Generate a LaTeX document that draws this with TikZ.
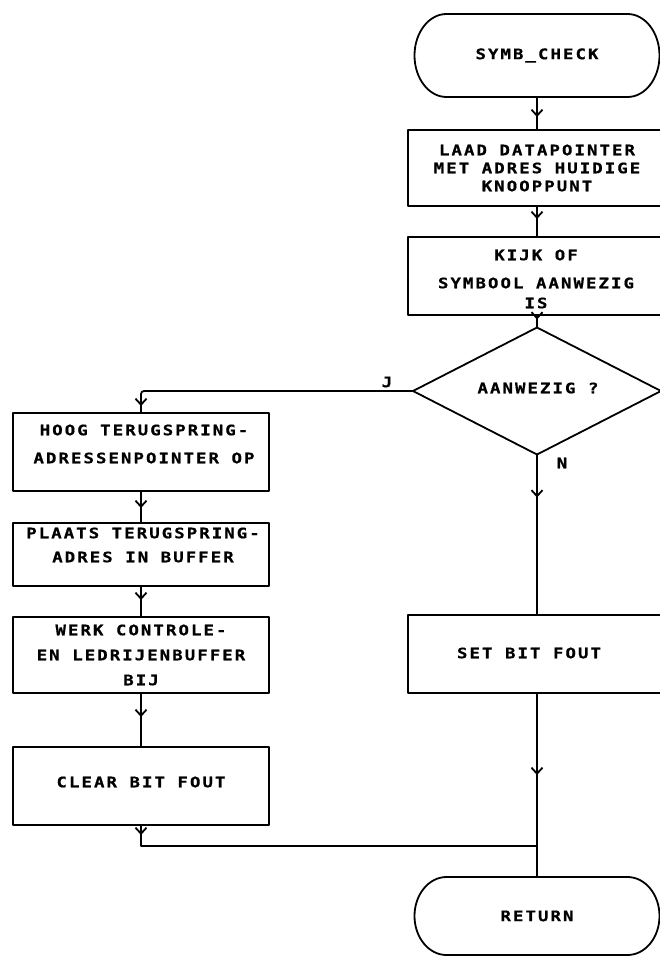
\documentclass[tikz,border=0pt]{standalone}
\usepackage{fontspec}
\newfontfamily\plotfont{DejaVu Sans Mono Bold}[FakeStretch=1.2, LetterSpace=14, FakeBold=0.6]
\usetikzlibrary{shapes.geometric,arrows.meta,decorations.markings}

\tikzset{
  ink/.style={line width=1.8pt, line join=round},
  txt/.style={font=\plotfont\fontsize{14.5pt}{#1}\selectfont, align=center, inner sep=0pt},
  txt/.default=25pt,
  stepbox/.style={draw, ink, rectangle, inner sep=0pt, outer sep=0pt},
  lbox/.style={stepbox, minimum width=256pt},
  rbox/.style={stepbox, minimum width=258pt},
  termbox/.style={rectangle, minimum width=245pt, inner sep=0pt, outer sep=0pt},
  decision/.style={diamond, draw, ink, aspect=2, minimum width=248pt, minimum height=127pt, inner sep=0pt, outer sep=0pt},
  tipat/.style={postaction={decorate}, decoration={markings,
      mark=at position #1 with {\arrow{Straight Barb[length=6pt,width=11pt]}}}},
}

\begin{document}
\begin{tikzpicture}[x=1pt, y=1pt]
\useasboundingbox (0,0) rectangle (659,-956);

% right column
\node[termbox, minimum height=83pt, txt] (start) at (537,-55.5) {SYMB\_CHECK};
\draw[ink] ([xshift=32pt]start.north west) -- ([xshift=-32pt]start.north east)
  arc[start angle=90, end angle=-90, x radius=32pt, y radius=41.5pt]
  -- ([xshift=32pt]start.south west)
  arc[start angle=270, end angle=90, x radius=32pt, y radius=41.5pt] -- cycle;

\node[rbox, minimum height=76pt, txt=18pt] (laad) at (537,-168)
  {LAAD DATAPOINTER\\MET ADRES HUIDIGE\\KNOOPPUNT};
\node[rbox, minimum height=78pt] (kijk) at (537,-276) {};
\node[txt=20pt] (kijkT) at (536,-279) {KIJK OF\\[8pt]SYMBOOL AANWEZIG\\IS};

\node[decision] (ask) at (537,-391) {};
\node[txt] (askT) at (538,-388) {AANWEZIG ?};

\node[rbox, minimum height=78pt] (set) at (537,-654) {};
\node[txt] (setT) at (529,-653) {SET BIT FOUT};

\node[termbox, minimum height=78pt, txt] (ret) at (537,-916) {RETURN};
\draw[ink] ([xshift=32pt]ret.north west) -- ([xshift=-32pt]ret.north east)
  arc[start angle=90, end angle=-90, x radius=32pt, y radius=39pt]
  -- ([xshift=32pt]ret.south west)
  arc[start angle=270, end angle=90, x radius=32pt, y radius=39pt] -- cycle;

% left column
\node[lbox, minimum height=78pt] (hoog) at (141,-452) {};
\node[txt=28pt] (hoogT) at (144,-444) {HOOG TERUGSPRING-\\ADRESSENPOINTER OP};
\node[lbox, minimum height=63pt] (plaats) at (141,-554.5) {};
\node[txt=24pt] (plaatsT) at (143,-545) {PLAATS TERUGSPRING-\\ADRES IN BUFFER};
\node[lbox, minimum height=76pt, txt] (werk) at (141,-655)
  {WERK CONTROLE-\\EN LEDRIJENBUFFER\\BIJ};
\node[lbox, minimum height=78pt] (clear) at (141,-786) {};
\node[txt] (clearT) at (141,-782) {CLEAR BIT FOUT};

% branch labels
\node[txt] (jlbl) at (387,-382) {J};
\node[txt] (nlbl) at (562,-463) {N};

% connectors
\coordinate (join) at (537,-846);
\draw[ink, tipat=-13pt] (start.south) -- (laad.north);
\draw[ink, tipat=-18pt] (laad.south) -- (kijk.north);
\draw[ink, tipat=-8pt] (kijk.south) -- (ask.north);
\draw[ink, tipat=-7pt, rounded corners=3pt] (ask.west) -| (hoog.north);
\draw[ink, tipat=-15pt] (hoog.south) -- (plaats.north);
\draw[ink, tipat=-17pt] (plaats.south) -- (werk.north);
\draw[ink, tipat=-30pt] (werk.south) -- (clear.north);
\draw[ink, tipat=10pt] (clear.south) |- (join);
\draw[ink, tipat=43pt] (ask.south) -- (set.north);
\draw[ink, tipat=82pt] (set.south) -- (ret.north);
\end{tikzpicture}
\end{document}
